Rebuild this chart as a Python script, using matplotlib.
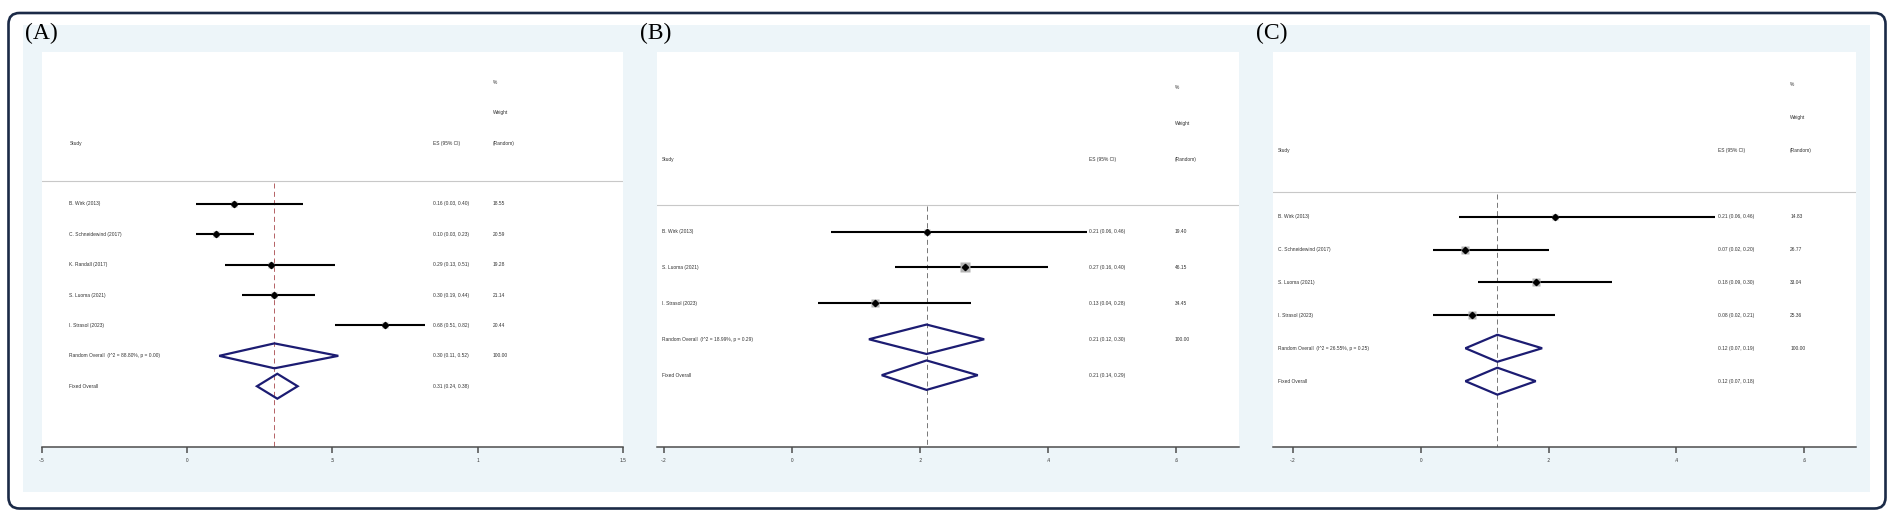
import matplotlib
matplotlib.use("Agg")
import matplotlib.pyplot as plt
from matplotlib.patches import FancyBboxPatch, Rectangle, Polygon
import numpy as np

# ---------------- data ----------------
a_studies = ["B. Wirk (2013)", "C. Schneidewind (2017)", "K. Randall (2017)",
             "S. Luoma (2021)", "I. Strasol (2023)"]
a_es = [0.16, 0.10, 0.29, 0.30, 0.68]
a_lo = [0.03, 0.03, 0.13, 0.19, 0.51]
a_hi = [0.40, 0.23, 0.51, 0.44, 0.82]
a_wt = [18.55, 20.59, 19.28, 21.14, 20.44]
a_random = [0.30, 0.11, 0.52]
a_fixed = [0.31, 0.24, 0.38]
a_het = "I^2 = 88.80%, p = 0.00"
a_ticks = [-0.5, 0, 0.5, 1, 1.5]
a_ticklabels = ["-.5", "0", ".5", "1", "1.5"]

b_studies = ["B. Wirk (2013)", "S. Luoma (2021)", "I. Strasol (2023)"]
b_es = [0.21, 0.27, 0.13]
b_lo = [0.06, 0.16, 0.04]
b_hi = [0.46, 0.40, 0.28]
b_wt = [19.40, 46.15, 34.45]
b_random = [0.21, 0.12, 0.30]
b_fixed = [0.21, 0.14, 0.29]
b_het = "I^2 = 18.99%, p = 0.29"
b_ticks = [-0.2, 0, 0.2, 0.4, 0.6]
b_ticklabels = ["-.2", "0", ".2", ".4", ".6"]

c_studies = ["B. Wirk (2013)", "C. Schneidewind (2017)", "S. Luoma (2021)",
             "I. Strasol (2023)"]
c_es = [0.21, 0.07, 0.18, 0.08]
c_lo = [0.06, 0.02, 0.09, 0.02]
c_hi = [0.46, 0.20, 0.30, 0.21]
c_wt = [14.83, 26.77, 33.04, 25.36]
c_random = [0.12, 0.07, 0.19]
c_fixed = [0.12, 0.07, 0.18]
c_het = "I^2 = 26.55%, p = 0.25"
c_ticks = [-0.2, 0, 0.2, 0.4, 0.6]
c_ticklabels = ["-.2", "0", ".2", ".4", ".6"]

panel_letters = ["(A)", "(B)", "(C)"]

# ---------------- layout ----------------
W, H = 1902, 520
fig = plt.figure(figsize=(W / 100, H / 100), dpi=100)
fig.patch.set_facecolor("white")

SANS = "Liberation Sans"
SERIF = "Liberation Serif"
TXT = "#333333"
AXC = "#4d4d4d"
NAVY = "#1c1c72"

# outer rounded frame (inches)
frame = FancyBboxPatch((0.085, 0.115), 18.77, 4.955,
                       boxstyle="round,pad=0,rounding_size=0.11",
                       transform=fig.dpi_scale_trans, facecolor="none",
                       edgecolor="#1b2a47", linewidth=1.9, zorder=-1)
fig.patches.append(frame)
# light blue background
bg = Rectangle((0.23, 0.28), 18.47, 4.67, transform=fig.dpi_scale_trans,
               facecolor="#edf5f9", edgecolor="none", zorder=-2)
fig.patches.append(bg)

top_px, bot_px = 52, 447
panels = [
    dict(x0=42, x1=623, xlim=(-0.5, 1.5), studies=a_studies, es=a_es, lo=a_lo, hi=a_hi,
         wt=a_wt, rnd=a_random, fix=a_fixed, het=a_het, ticks=a_ticks, tl=a_ticklabels,
         ref="#a8474b", cx=(0.047, 0.673, 0.776)),
    dict(x0=657, x1=1239, xlim=(-0.211, 0.698), studies=b_studies, es=b_es, lo=b_lo, hi=b_hi,
         wt=b_wt, rnd=b_random, fix=b_fixed, het=b_het, ticks=b_ticks, tl=b_ticklabels,
         ref="#606060", cx=(0.008, 0.742, 0.890)),
    dict(x0=1273, x1=1856, xlim=(-0.231, 0.681), studies=c_studies, es=c_es, lo=c_lo, hi=c_hi,
         wt=c_wt, rnd=c_random, fix=c_fixed, het=c_het, ticks=c_ticks, tl=c_ticklabels,
         ref="#606060", cx=(0.009, 0.763, 0.887)),
]

FS = 3.5

for p, letter in zip(panels, panel_letters):
    ax = fig.add_axes([p["x0"] / W, 1 - bot_px / H, (p["x1"] - p["x0"]) / W,
                       (bot_px - top_px) / H])
    ax.set_facecolor("white")
    n = len(p["studies"])
    ymax = n + 8
    ax.set_xlim(*p["xlim"])
    ax.set_ylim(ymax, 0)
    for s in ["top", "left", "right"]:
        ax.spines[s].set_visible(False)
    ax.spines["bottom"].set_color(AXC)
    ax.spines["bottom"].set_linewidth(1.1)
    ax.set_yticks([])
    ax.set_xticks(p["ticks"])
    ax.set_xticklabels(p["tl"], fontfamily=SANS)
    ax.tick_params(axis="x", direction="out", length=4.3, width=1.1, color=AXC,
                   pad=3.4, labelsize=3.4, labelcolor=TXT)

    tr = ax.get_yaxis_transform()
    cl, ce, cw = p["cx"]
    kw = dict(transform=tr, fontsize=FS, color=TXT, fontfamily=SANS, va="center", ha="left")
    ax.text(cw, 1, "%", **kw)
    ax.text(cw, 2, "Weight", **kw)
    ax.text(cl, 3, "Study", **kw)
    ax.text(ce, 3, "ES (95% CI)", **kw)
    ax.text(cw, 3, "(Random)", **kw)

    # separator
    ax.axhline(4.25, color="#c8c8c8", lw=0.8, zorder=1)
    # reference line at random-effects estimate
    ax.plot([p["rnd"][0], p["rnd"][0]], [4.3, ymax], color=p["ref"], lw=0.6,
            dashes=(6, 4), zorder=2)

    for i in range(n):
        y = 5 + i
        es, lo, hi, w = p["es"][i], p["lo"][i], p["hi"][i], p["wt"][i]
        ax.plot([lo, hi], [y, y], color="black", lw=1.5, zorder=3, solid_capstyle="butt")
        side_pt = 1.45 * np.sqrt(w) * 0.72
        ax.plot([es], [y], marker="s", ms=side_pt, color="#b3b3b3", mec="none", zorder=4)
        ax.plot([es], [y], marker="D", ms=3.2, color="black", mec="black", zorder=5)
        ax.text(cl, y, p["studies"][i], **kw)
        ax.text(ce, y, f"{es:.2f} ({lo:.2f}, {hi:.2f})", **kw)
        ax.text(cw, y, f"{w:.2f}", **kw)

    for j, (est, lab, wlab) in enumerate([(p["rnd"], f"Random Overall  ({p['het']})", "100.00"),
                                          (p["fix"], "Fixed Overall", None)]):
        y = 5 + n + j
        e, l, h = est
        dia = Polygon([[l, y], [e, y - 0.41], [h, y], [e, y + 0.41]], closed=True,
                      facecolor="none", edgecolor=NAVY, lw=1.6, zorder=4)
        ax.add_patch(dia)
        ax.text(cl, y, lab, **kw)
        ax.text(ce, y, f"{e:.2f} ({l:.2f}, {h:.2f})", **kw)
        if wlab:
            ax.text(cw, y, wlab, **kw)

    fig.text((p["x0"] - 17) / W, 1 - 33 / H, letter, fontfamily=SERIF, fontsize=17,
             color="black", ha="left", va="center")

fig.savefig("out.png", dpi=100, facecolor="white")
